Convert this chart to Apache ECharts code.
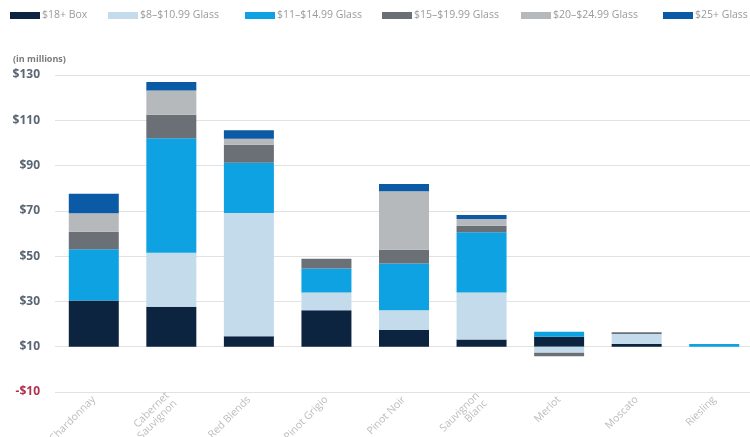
<!DOCTYPE html>
<html>
<head>
<meta charset="utf-8">
<script src="https://cdn.jsdelivr.net/npm/echarts@6/dist/echarts.min.js"></script>
<style>html,body{margin:0;padding:0;background:#fff;}#c{width:750px;height:437px;}</style>
</head>
<body>
<div id="c"></div>
<script>
const categories = ['Chardonnay','Cabernet\nSauvignon','Red Blends','Pinot Grigio','Pinot Noir','Sauvignon\nBlanc','Merlot','Moscato','Riesling'];
const seriesNames = ['$18+ Box','$8–$10.99 Glass','$11–$14.99 Glass','$15–$19.99 Glass','$20–$24.99 Glass','$25+ Glass'];
const box18 = [20.4, 17.6, 4.6, 16.1, 7.4, 3.2, 4.4, 1.2, 0];
const glass8 = [0, 23.9, 54.4, 7.8, 8.7, 20.7, -2.7, 4.4, 0];
const glass11 = [22.6, 50.6, 22.2, 10.6, 20.7, 26.6, 2.2, 0, 1.2];
const glass15 = [7.8, 10.3, 8.0, 4.4, 6.0, 2.9, -1.5, 0.8, 0];
const glass20 = [8.1, 10.8, 2.7, 0, 25.9, 3.0, 0, 0, 0];
const glass25 = [8.7, 3.7, 3.7, 0, 3.2, 1.8, 0, 0, 0];
const tickLabels = ['-$10','$10','$30','$50','$70','$90','$110','$130'];

const colors = ['#0d2440','#c4dbeb','#0ea2e2','#6b6f76','#b6b9bc','#0b5aa6'];
const allData = [box18, glass8, glass11, glass15, glass20, glass25];
const legendLeft = [10, 108, 245, 382, 521, 663];

const chart = echarts.init(document.getElementById('c'), null, {renderer:'canvas'});
const FONT = '"Open Sans", "Noto Sans", sans-serif';

const legends = seriesNames.map((n,i)=>({
  data:[n], left: legendLeft[i], top: 10, itemWidth: 30, itemHeight: 7, itemGap: 0,
  icon: 'rect', padding: 0,
  textStyle: {color:'#9a9a9a', fontSize: 10.5, fontFamily: FONT, padding:[0,0,0,-3]},
  selectedMode: false
}));

const series = seriesNames.map((n,i)=>({
  name: n, type: 'bar', stack: 'total', barWidth: 50,
  itemStyle: {color: colors[i]},
  data: allData[i]
}));

chart.setOption({
  animation: false,
  color: colors,
  title: {text: '(in millions)', left: 8, top: 50, textStyle:{fontSize: 9, fontWeight: 'bold', color:'#7a7a7a', fontFamily: FONT}},
  legend: legends,
  grid: {left: 55, right: -3, top: 75, bottom: 45, containLabel: false, outerBoundsMode: 'none'},
  xAxis: {
    type: 'category', data: categories,
    axisLine: {show: false, onZero: false}, axisTick: {show: false},
    axisLabel: {rotate: 45, color: '#bdbdbd', fontSize: 10.5, fontFamily: FONT, margin: 6, interval: 0, lineHeight: 11}
  },
  yAxis: {
    type: 'value', min: -20, max: 120, interval: 20,
    axisLine: {show:false}, axisTick: {show:false},
    splitLine: {lineStyle: {color: '#e2e2e2', width: 1}},
    axisLabel: {
      margin: 15, fontSize: 12, fontWeight: 'bold', fontFamily: FONT,
      formatter: v => tickLabels[Math.round((v + 20) / 20)],
      color: v => v < 0 ? '#b0344f' : '#5a6674'
    }
  },
  series: series
});
</script>
</body>
</html>
